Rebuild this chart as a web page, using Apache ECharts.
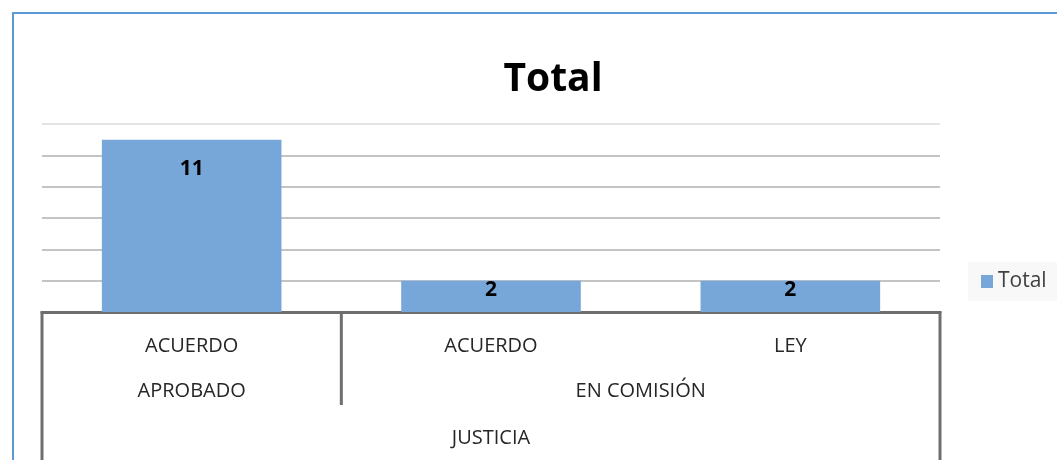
<!DOCTYPE html>
<html>
<head>
<meta charset="utf-8">
<script src="https://cdn.jsdelivr.net/npm/echarts@6/dist/echarts.min.js"></script>
<style>
  html, body { margin: 0; padding: 0; background: #fff; }
  #chart { width: 1057px; height: 460px; }
</style>
</head>
<body>
<div id="chart"></div>
<script>
// categorias en tres niveles (como la tabla dinamica de Excel)
var tipos = ['ACUERDO', 'ACUERDO', 'LEY'];
var estados = ['APROBADO', 'EN COMISIÓN'];
var estadoTamanos = [1, 2];       // cuantas categorias cubre cada estado
var comision = 'JUSTICIA';
var totales = [11, 2, 2];

var fuente = '"Open Sans", "Noto Sans", sans-serif';
var colorEje = '#6e6e6e';
var colorTexto = '#262626';

var myChart = echarts.init(document.getElementById('chart'));

var option = {
  animation: false,
  title: {
    text: 'Total',
    left: 548,
    top: 55,
    textAlign: 'center',
    textStyle: { fontFamily: fuente, fontSize: 39, fontWeight: 'bold', color: '#000' }
  },
  legend: {
    data: ['Total'],
    orient: 'vertical',
    left: 968,
    top: 262,
    padding: [9, 14, 9, 13],
    backgroundColor: '#f8f8f8',
    itemWidth: 12,
    itemHeight: 13,
    itemGap: 6,
    icon: 'rect',
    textStyle: { fontFamily: fuente, fontSize: 21, color: '#404040' }
  },
  grid: { left: 42, right: 117, top: 124, bottom: 148 },
  xAxis: {
    type: 'category',
    data: tipos,
    axisLine: { lineStyle: { color: colorEje, width: 3 } },
    axisTick: { show: false },
    axisLabel: { margin: 24, fontFamily: fuente, fontSize: 20, color: colorTexto }
  },
  yAxis: {
    type: 'value',
    min: 0,
    max: 12,
    interval: 2,
    axisLabel: { show: false },
    axisLine: { show: false },
    axisTick: { show: false },
    splitLine: {
      lineStyle: {
        color: ['#c4c4c4', '#c4c4c4', '#c4c4c4', '#c4c4c4', '#c4c4c4', '#c4c4c4', '#e4e4e4'],
        width: 2
      }
    }
  },
  series: [{
    name: 'Total',
    type: 'bar',
    barCategoryGap: '40%',
    itemStyle: { color: '#77a6d9' },
    data: totales.map(function (v) {
      return { value: v, label: { distance: v > 5 ? 19 : -1 } };
    }),
    label: {
      show: true,
      position: 'insideTop',
      fontFamily: fuente,
      fontSize: 21,
      fontWeight: 'bold',
      color: '#000'
    }
  }]
};

myChart.setOption(option);

// niveles 2 y 3 del eje: se calculan con la escala del eje x
function bordeCat(i) {
  var a = myChart.convertToPixel({ xAxisIndex: 0 }, 0);
  var b = myChart.convertToPixel({ xAxisIndex: 0 }, 1);
  var paso = b - a;
  return a - paso / 2 + paso * i;
}

var yEje = myChart.convertToPixel({ yAxisIndex: 0 }, 0);
var yNivel2 = 391, yNivel3 = 438, finNivel2 = 405, finEje = 460;
var elementos = [];
var lineaEje = { stroke: colorEje, lineWidth: 3 };
var fuenteEje = '20px ' + fuente;

// marco exterior
elementos.push({
  type: 'rect', shape: { x: 13, y: 13, width: 1100, height: 500 },
  style: { fill: null, stroke: '#5b9bd5', lineWidth: 2 }, silent: true
});

var inicio = 0;
estados.forEach(function (nombre, k) {
  var fin = inicio + estadoTamanos[k];
  var x0 = bordeCat(inicio), x1 = bordeCat(fin);
  elementos.push({
    type: 'text', x: (x0 + x1) / 2, y: yNivel2,
    style: { text: nombre, font: fuenteEje, fill: colorTexto, align: 'center', verticalAlign: 'middle' }
  });
  if (inicio > 0) {
    elementos.push({ type: 'line', shape: { x1: x0, y1: yEje, x2: x0, y2: finNivel2 }, style: lineaEje });
  }
  inicio = fin;
});

var xIzq = bordeCat(0), xDer = bordeCat(tipos.length);
elementos.push({ type: 'line', shape: { x1: xIzq, y1: yEje - 1, x2: xIzq, y2: finEje }, style: lineaEje });
elementos.push({ type: 'line', shape: { x1: xDer, y1: yEje - 1, x2: xDer, y2: finEje }, style: lineaEje });
elementos.push({
  type: 'text', x: (xIzq + xDer) / 2, y: yNivel3,
  style: { text: comision, font: fuenteEje, fill: colorTexto, align: 'center', verticalAlign: 'middle' }
});

myChart.setOption({ graphic: elementos });
</script>
</body>
</html>
